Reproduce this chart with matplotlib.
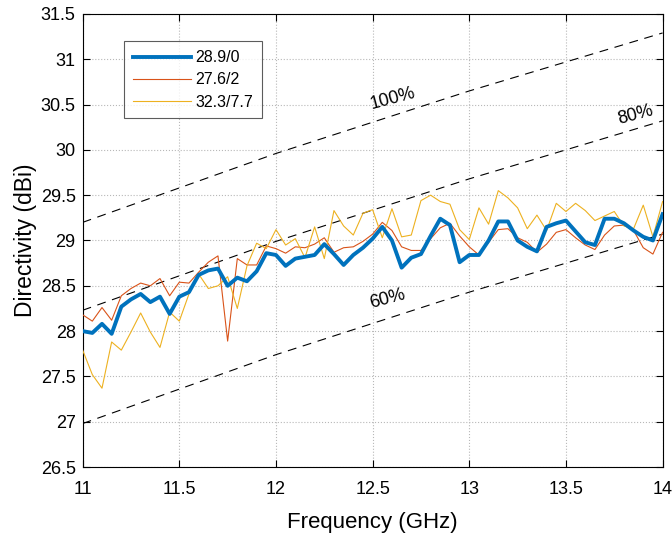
import numpy as np
import matplotlib
matplotlib.use('Agg')
import matplotlib.pyplot as plt

plt.rcParams['font.family'] = ['Liberation Sans', 'DejaVu Sans']

# frequency axis (GHz)
freq = np.round(np.arange(11.0, 14.0001, 0.05), 2)

# directivity (dBi) for the three cases
d_28_9 = [28.00, 27.98, 28.08, 27.97, 28.27, 28.35, 28.41, 28.32, 28.38, 28.19,
          28.38, 28.43, 28.62, 28.67, 28.69, 28.50, 28.59, 28.55, 28.66, 28.86,
          28.84, 28.72, 28.80, 28.82, 28.84, 28.96, 28.85, 28.73, 28.84, 28.92,
          29.02, 29.15, 29.00, 28.70, 28.81, 28.85, 29.05, 29.24, 29.17, 28.76,
          28.84, 28.84, 29.00, 29.21, 29.21, 29.00, 28.93, 28.88, 29.15, 29.19,
          29.22, 29.10, 28.98, 28.95, 29.24, 29.24, 29.19, 29.11, 29.04, 29.00,
          29.29]
d_27_6 = [28.18, 28.11, 28.26, 28.12, 28.39, 28.47, 28.53, 28.50, 28.58, 28.39,
          28.54, 28.53, 28.65, 28.76, 28.83, 27.89, 28.80, 28.73, 28.73, 28.94,
          28.91, 28.86, 28.93, 28.92, 28.96, 29.03, 28.87, 28.92, 28.93, 28.99,
          29.07, 29.20, 29.11, 28.93, 28.89, 28.89, 29.02, 29.14, 29.19, 29.05,
          28.93, 28.84, 28.98, 29.12, 29.13, 29.03, 28.98, 28.87, 28.96, 29.09,
          29.12, 29.03, 28.95, 28.90, 29.06, 29.16, 29.17, 29.11, 28.92, 28.85,
          29.09]
d_32_3 = [27.79, 27.52, 27.37, 27.88, 27.79, 27.99, 28.20, 27.99, 27.82, 28.21,
          28.11, 28.41, 28.63, 28.47, 28.50, 28.60, 28.25, 28.72, 28.97, 28.91,
          29.12, 28.95, 29.02, 28.81, 29.15, 28.80, 29.33, 29.16, 29.06, 29.30,
          29.34, 29.03, 29.35, 29.04, 29.06, 29.44, 29.50, 29.43, 29.40, 29.12,
          29.01, 29.36, 29.18, 29.55, 29.47, 29.36, 29.13, 29.28, 29.11, 29.41,
          29.32, 29.41, 29.33, 29.22, 29.27, 29.32, 29.16, 29.13, 29.39, 29.04,
          29.43]
labels = ['28.9/0', '27.6/2', '32.3/7.7']

# aperture-efficiency reference lines, read at a few frequencies
ref_f = [11.0, 12.0, 13.0, 14.0]
ref_100 = [29.20, 29.96, 30.65, 31.29]
ref_80 = [28.23, 28.99, 29.68, 30.32]
ref_60 = [26.98, 27.74, 28.43, 29.07]
ref_names = ['100%', '80%', '60%']
ref_text_pos = [(12.50, 30.41), (13.78, 30.24), (12.50, 28.21)]

fig = plt.figure(figsize=(6.72, 5.35), dpi=100)
ax = fig.add_axes([0.123, 0.127, 0.863, 0.847])

ax.plot(freq, d_28_9, color='#0072BD', lw=2.8, label=labels[0], zorder=4)
ax.plot(freq, d_27_6, color='#D95319', lw=0.8, label=labels[1], zorder=3)
ax.plot(freq, d_32_3, color='#EDB120', lw=0.8, label=labels[2], zorder=3)

for ref in [ref_100, ref_80, ref_60]:
    ax.plot(ref_f, ref, color='k', lw=0.8, dashes=(8, 6), zorder=2)
for name, (tx, ty) in zip(ref_names, ref_text_pos):
    ax.text(tx, ty, name, rotation=15, fontsize=13, ha='left', va='bottom',
            rotation_mode='anchor')

ax.set_xlim(11, 14)
ax.set_ylim(26.5, 31.5)
ax.set_xticks(np.arange(11, 14.01, 0.5))
ax.set_yticks(np.arange(26.5, 31.51, 0.5))
ax.set_xticklabels(['11', '11.5', '12', '12.5', '13', '13.5', '14'])
ax.set_yticklabels(['26.5', '27', '27.5', '28', '28.5', '29', '29.5',
                    '30', '30.5', '31', '31.5'])
ax.tick_params(direction='in', top=True, right=True, labelsize=13, length=5)
ax.tick_params(axis='x', pad=10)
ax.tick_params(axis='y', pad=5)
ax.grid(True, color='#b8b8b8', linestyle=':', linewidth=0.8)
ax.set_axisbelow(True)
for s in ax.spines.values():
    s.set_linewidth(0.8)

ax.set_xlabel('Frequency (GHz)', fontsize=16, labelpad=10)
ax.set_ylabel('Directivity (dBi)', fontsize=16.5, labelpad=3)

leg = ax.legend(loc='upper left', bbox_to_anchor=(0.058, 0.957), fontsize=11.5,
                frameon=True, fancybox=False, edgecolor='#333333',
                handlelength=3.6, borderpad=0.55, labelspacing=0.45,
                handletextpad=0.3)
leg.get_frame().set_linewidth(0.8)

fig.savefig('out.png', dpi=100)
